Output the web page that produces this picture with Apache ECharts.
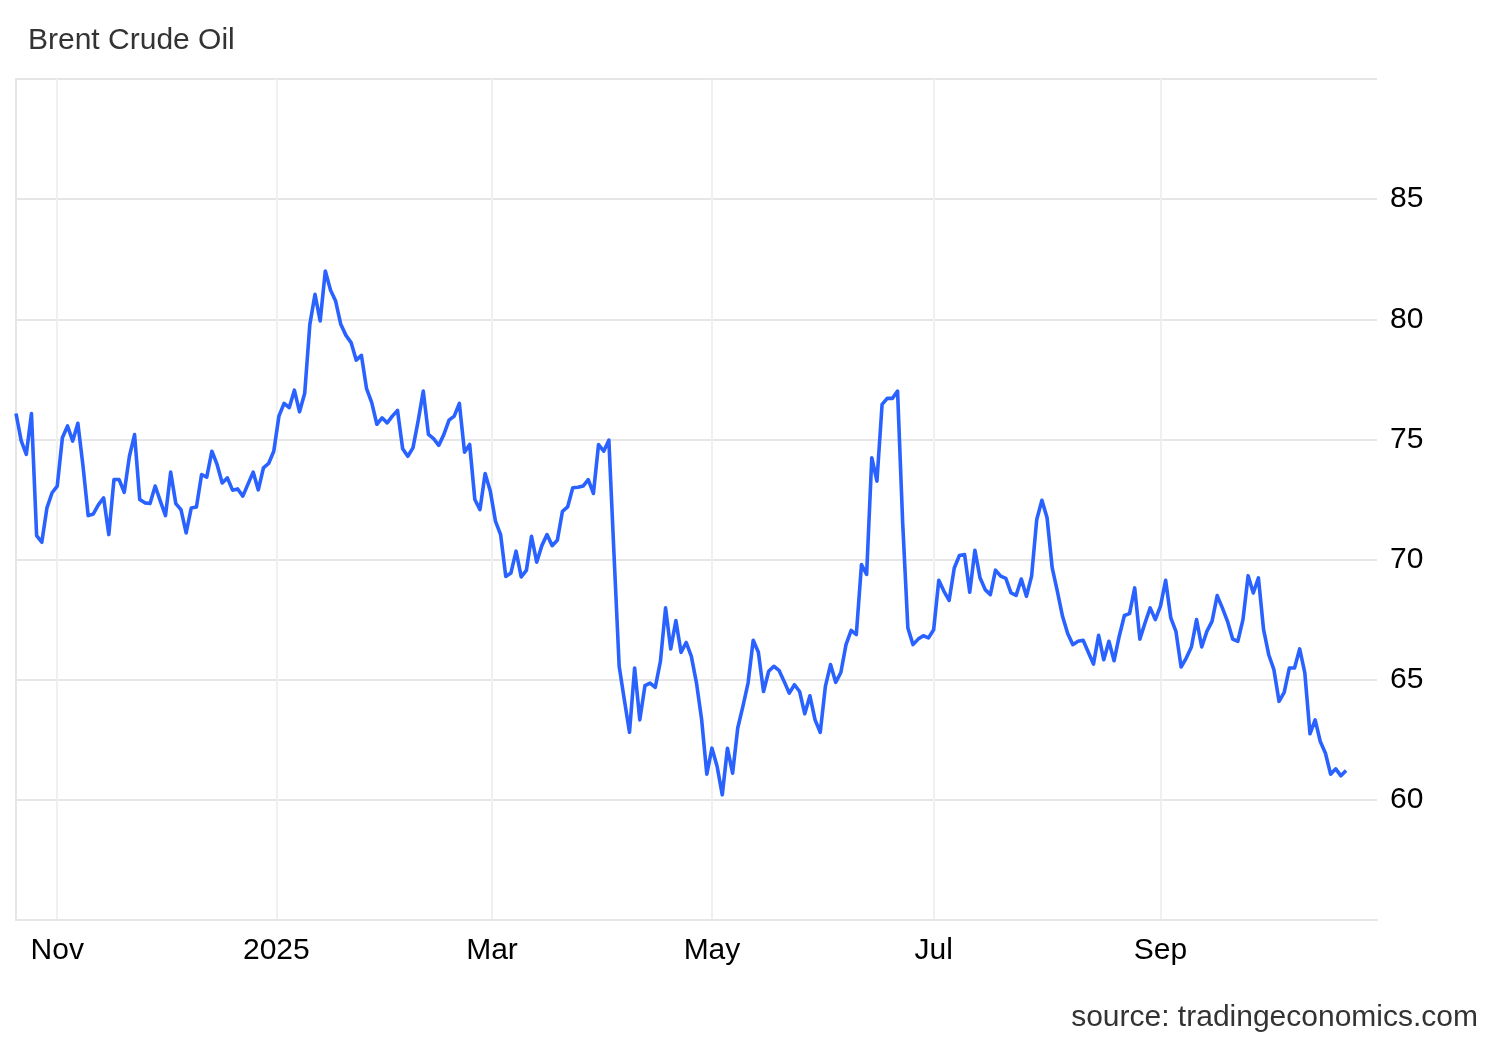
<!DOCTYPE html>
<html><head><meta charset="utf-8">
<script src="https://cdn.jsdelivr.net/npm/echarts@6/dist/echarts.min.js"></script>
<style>html,body{margin:0;padding:0;background:#fff}#c{width:1500px;height:1040px}</style>
</head><body><div id="c"></div>
<script>
// ---- data (daily closes) ----
const startDate = '2024-10-22';
const endDate = '2025-10-21';
const holidays = ['2025-01-01', '2025-04-18'];
const padDays = 6; // empty trading-day slots after the last close

const oct2024 = [76.08, 74.95, 74.38, 76.08, 71.0, 70.72, 72.15, 72.78];
const nov2024 = [73.06, 75.07, 75.56, 74.93, 75.67, 73.89, 71.83, 71.9, 72.29, 72.57, 71.04, 73.33, 73.33, 72.8, 74.3, 75.2, 72.5, 72.36, 72.33, 73.06, 72.43];
const dec2024 = [71.83, 73.64, 72.33, 72.08, 71.11, 72.15, 72.19, 73.54, 73.43, 74.51, 73.96, 73.19, 73.4, 72.89, 72.94, 72.64, null, 73.64, 72.9, 73.82, 74.0, 74.51];
const jan2025 = [75.97, 76.5, 76.32, 77.05, 76.15, 76.92, 79.79, 81.04, 79.93, 82.01, 81.22, 80.76, 79.79, 79.33, 79.03, 78.3, 78.5, 77.11, 76.53, 75.63, 75.9, 75.69];
const feb2025 = [75.97, 76.21, 74.61, 74.3, 74.65, 75.76, 77.01, 75.21, 75.03, 74.75, 75.21, 75.8, 75.97, 76.5, 74.47, 74.79, 72.5, 72.08, 73.58, 72.85];
const mar2025 = [71.6, 71.04, 69.3, 69.44, 70.35, 69.28, 69.55, 70.97, 69.89, 70.58, 71.04, 70.58, 70.8, 72.01, 72.19, 72.99, 73.01, 73.06, 73.33, 72.75, 74.79];
const apr2025 = [74.51, 74.97, 70.2, 65.56, 64.17, 62.81, 65.49, 63.33, 64.75, 64.86, 64.68, 65.76, 67.99, 66.28, 67.46, 66.14, 66.55, 65.97, 64.86, 63.33, 61.07];
const may2025 = [62.15, 61.39, 60.21, 62.15, 61.11, 62.99, 63.89, 64.86, 66.64, 66.14, 64.51, 65.35, 65.56, 65.39, 64.93, 64.44, 64.79, 64.51, 63.58, 64.33, 63.33, 62.81];
const jun2025 = [64.72, 65.63, 64.89, 65.3, 66.46, 67.05, 66.88, 69.79, 69.38, 74.24, 73.26, 76.46, 76.71, 76.71, 77.01, 71.5, 67.15, 66.46, 66.69, 66.83, 66.74];
const jul2025 = [67.08, 69.14, 68.68, 68.3, 69.65, 70.17, 70.21, 68.64, 70.39, 69.24, 68.75, 68.54, 69.56, 69.31, 69.22, 68.61, 68.51, 69.19, 68.47, 69.31, 71.67, 72.47, 71.74];
const aug2025 = [69.65, 68.68, 67.64, 66.92, 66.46, 66.6, 66.64, 66.14, 65.65, 66.85, 65.83, 66.6, 65.79, 66.81, 67.67, 67.75, 68.82, 66.69, 67.36, 67.99, 67.5];
const sep2025 = [68.06, 69.14, 67.57, 67.01, 65.53, 65.9, 66.36, 67.5, 66.36, 67.01, 67.43, 68.5, 67.99, 67.43, 66.69, 66.6, 67.5, 69.33, 68.61, 69.24, 67.08, 66.04];
const oct2025 = [65.42, 64.1, 64.47, 65.49, 65.49, 66.28, 65.28, 62.75, 63.33, 62.43, 61.94, 61.07, 61.29, 61.0, 61.22];

const monthTickDates = ['2024-11-01', '2025-01-01', '2025-03-01', '2025-05-01', '2025-07-01', '2025-09-01'];
const monthTickLabels = ['Nov', '2025', 'Mar', 'May', 'Jul', 'Sep'];
const yMin = 55, yMax = 90, yStep = 5;

const titleText = 'Brent Crude Oil';
const sourceText = 'source: tradingeconomics.com';

// ---- build trading-day calendar ----
const DAY = 86400000;
const dates = [];
for (let t = Date.parse(startDate + 'T00:00:00Z'); t <= Date.parse(endDate + 'T00:00:00Z'); t += DAY) {
  const d = new Date(t);
  const wd = d.getUTCDay();
  const s = d.toISOString().slice(0, 10);
  if (wd === 0 || wd === 6 || holidays.includes(s)) continue;
  dates.push(s);
}
const values = [].concat(oct2024, nov2024, dec2024, jan2025, feb2025, mar2025, apr2025, may2025, jun2025, jul2025, aug2025, sep2025, oct2025);
const times = dates.map(s => Date.parse(s + 'T00:00:00Z'));
const seriesData = values.map((v, i) => [i, v]);

// fractional trading-day position of each month start (ordinal axis)
const tickPos = monthTickDates.map(s => {
  const t = Date.parse(s + 'T00:00:00Z');
  for (let i = 0; i < times.length - 1; i++) {
    if (times[i] <= t && t < times[i + 1]) return i + (t - times[i]) / (times[i + 1] - times[i]);
  }
  return 0;
});

const FONT = 'Liberation Sans, Arial, sans-serif';
const chart = echarts.init(document.getElementById('c'), null, { renderer: 'canvas' });
chart.setOption({
  animation: false,
  backgroundColor: '#ffffff',
  title: [
    { text: titleText, left: 23, top: 21, textStyle: { fontFamily: FONT, fontSize: 30, fontWeight: 'normal', color: '#333333' } },
    { text: sourceText, right: 17, top: 998, textStyle: { fontFamily: FONT, fontSize: 30, fontWeight: 'normal', color: '#333333' } }
  ],
  grid: { left: 16, right: 123, top: 79, bottom: 120, containLabel: false },
  xAxis: {
    type: 'value',
    min: 0,
    max: dates.length - 1 + padDays,
    axisLine: { show: true, onZero: false, lineStyle: { color: '#e6e6e6', width: 2 } },
    axisTick: { show: false, customValues: tickPos },
    splitLine: { show: true, lineStyle: { color: '#f0f0f0', width: 2 } },
    axisLabel: {
      customValues: tickPos,
      margin: 16,
      fontFamily: FONT, fontSize: 30, color: '#000000',
      formatter: v => {
        let best = 0;
        tickPos.forEach((p, i) => { if (Math.abs(p - v) < Math.abs(tickPos[best] - v)) best = i; });
        return monthTickLabels[best];
      }
    }
  },
  yAxis: {
    type: 'value',
    position: 'right',
    min: yMin, max: yMax, interval: yStep,
    axisLine: { show: true, lineStyle: { color: '#e6e6e6', width: 2 } },
    axisTick: { show: true, length: 9, lineStyle: { color: '#e6e6e6', width: 2 } },
    splitLine: { show: true, lineStyle: { color: '#e6e6e6', width: 2 } },
    axisLabel: {
      showMinLabel: false, showMaxLabel: false,
      margin: 13,
      fontFamily: FONT, fontSize: 30, color: '#000000',
      padding: [3, 0, 0, 0]
    }
  },
  series: [{
    type: 'line',
    data: seriesData,
    connectNulls: true,
    showSymbol: false,
    symbol: 'none',
    lineStyle: { color: '#2962ff', width: 3.6, join: 'round' },
    itemStyle: { color: '#2962ff' }
  }]
});
</script>
</body></html>
